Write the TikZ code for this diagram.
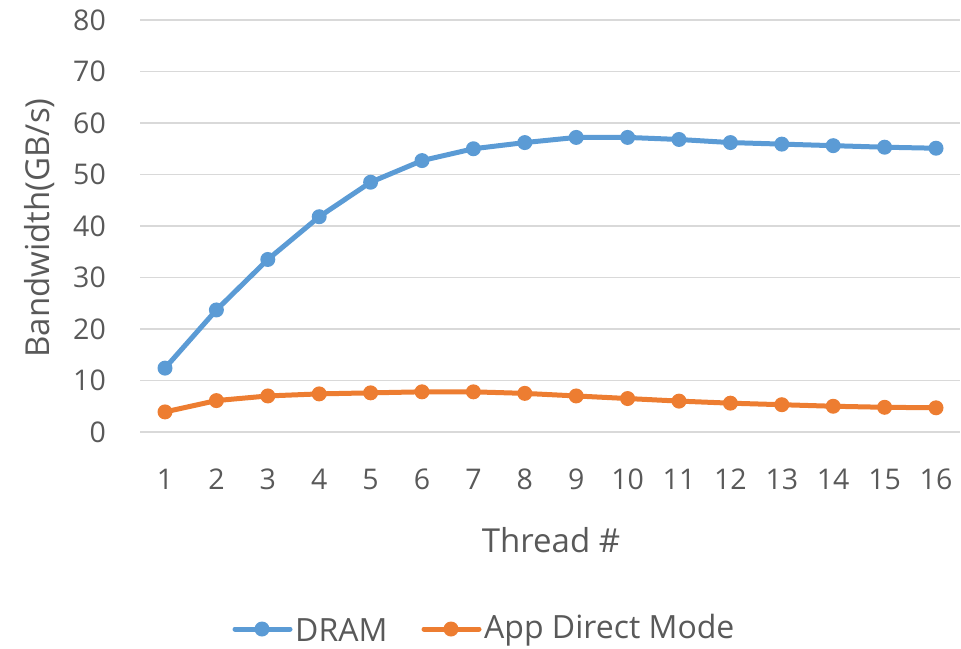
\documentclass[tikz,border=0pt]{standalone}
\usepackage{fontspec}
\setmainfont{Open Sans}
\definecolor{dramblue}{HTML}{5B9BD5}
\definecolor{adorange}{HTML}{ED7D31}
\definecolor{gridgray}{HTML}{D9D9D9}
\definecolor{labelgray}{HTML}{595959}
\begin{document}
\begin{tikzpicture}[x=1pt,y=-1pt,
  gridline/.style={draw=gridgray,line width=1.5pt},
  ticklabel/.style={text=labelgray,font=\fontsize{28.5}{32}\selectfont,inner sep=0pt},
  axistitle/.style={text=labelgray,font=\fontsize{33}{38}\selectfont,inner sep=0pt},
  legendtext/.style={text=labelgray,font=\fontsize{32}{36}\selectfont,inner sep=0pt,anchor=west},
  series/.style={line width=5pt,line join=round,line cap=round},
  dot/.style={radius=7.5pt}]
\useasboundingbox (0,0) rectangle (961,648);

% horizontal grid and value labels
\foreach \v in {0,10,...,80} {
  \pgfmathsetmacro{\yy}{432-\v*5.15}
  \draw[gridline] (140,\yy) -- (960,\yy);
  \node[ticklabel,anchor=east] (ylab\v) at (106,\yy) {\v};
}

% category labels
\foreach \i in {1,...,16} {
  \pgfmathsetmacro{\xx}{165+(\i-1)*51.4}
  \node[ticklabel] (xlab\i) at (\xx,479) {\i};
}

% axis titles
\node[axistitle] (xtitle) at (551,540) {Thread \#};
\node[axistitle,rotate=90] (ytitle) at (40,228) {Bandwidth(GB/s)};

% data points
\foreach \v [count=\i] in {12.4,23.7,33.5,41.8,48.5,52.7,55.0,56.2,57.2,57.2,56.8,56.2,55.9,55.6,55.3,55.1} {
  \coordinate (d\i) at ({165+(\i-1)*51.4},{432-\v*5.15});
}
\foreach \v [count=\i] in {3.9,6.1,7.0,7.4,7.6,7.8,7.8,7.5,7.0,6.5,6.0,5.6,5.3,5.0,4.8,4.7} {
  \coordinate (a\i) at ({165+(\i-1)*51.4},{432-\v*5.15});
}

% series lines and markers
\draw[series,adorange] (a1) \foreach \i in {2,...,16} { -- (a\i) };
\foreach \i in {1,...,16} \fill[adorange] (a\i) circle[dot];
\draw[series,dramblue] (d1) \foreach \i in {2,...,16} { -- (d\i) };
\foreach \i in {1,...,16} \fill[dramblue] (d\i) circle[dot];

% legend
\coordinate (ldA) at (235,629);
\coordinate (ldB) at (290,629);
\draw[series,dramblue] (ldA) -- (ldB);
\fill[dramblue] (262,629) circle[dot];
\node[legendtext] (ldram) at (295,630) {DRAM};
\coordinate (laA) at (424,629);
\coordinate (laB) at (479,629);
\draw[series,adorange] (laA) -- (laB);
\fill[adorange] (451,629) circle[dot];
\node[legendtext] (lapp) at (484,630) {App Direct Mode};
\end{tikzpicture}
\end{document}
